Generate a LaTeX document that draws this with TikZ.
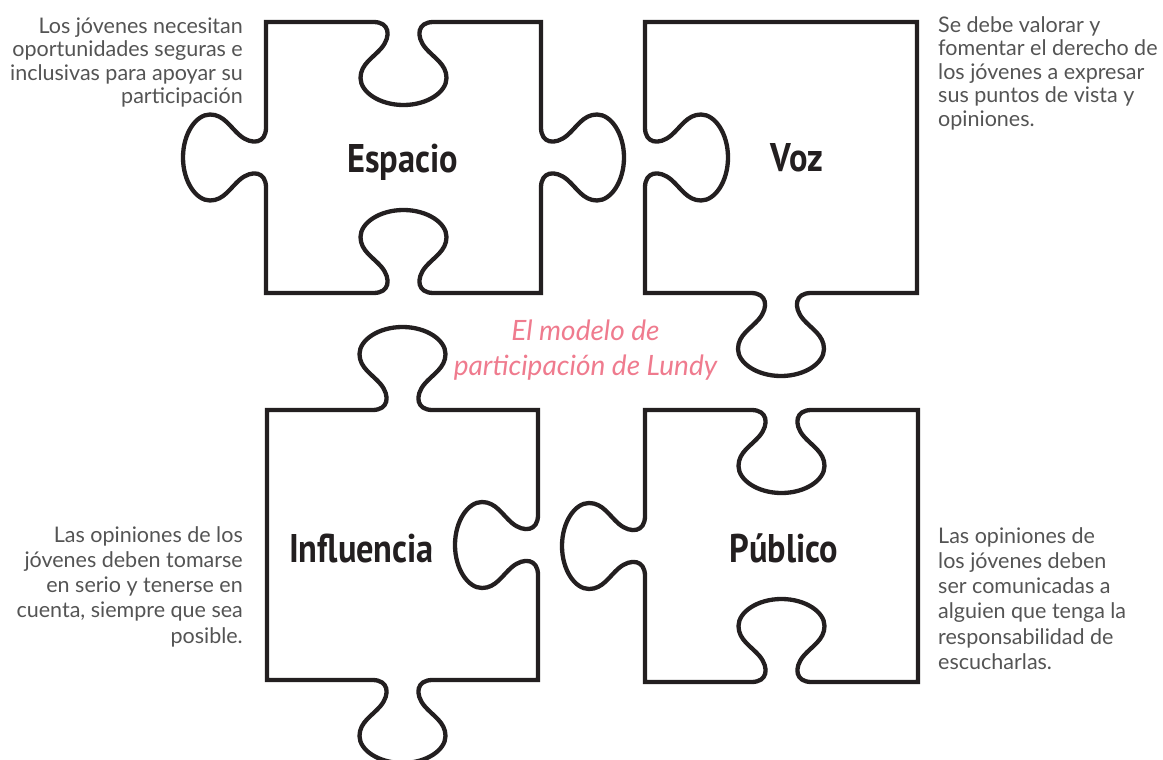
\documentclass[tikz,border=0pt]{standalone}
\usepackage{fontspec}
\setmainfont{Lato}
\newfontfamily\handfont[FakeStretch=0.86]{PT Sans}
\definecolor{ink}{HTML}{231F20}
\definecolor{txtgray}{HTML}{545454}
\definecolor{lundypink}{HTML}{EF7B8E}
% knob along an edge: #1,#2 centre; #3,#4 edge direction; #5,#6 knob direction
\newcommand\pzknob[6]{%
 -- ({(#1)+(-30)*(#3)},{(#2)+(-30)*(#4)})
 .. controls ({(#1)+(-14)*(#3)},{(#2)+(-14)*(#4)}) and ({(#1)+(-12)*(#3)+(14)*(#5)},{(#2)+(-12)*(#4)+(14)*(#6)}) .. ({(#1)+(-22)*(#3)+(26)*(#5)},{(#2)+(-22)*(#4)+(26)*(#6)})
 .. controls ({(#1)+(-30)*(#3)+(35.6)*(#5)},{(#2)+(-30)*(#4)+(35.6)*(#6)}) and ({(#1)+(-43)*(#3)+(42)*(#5)},{(#2)+(-43)*(#4)+(42)*(#6)}) .. ({(#1)+(-43)*(#3)+(56)*(#5)},{(#2)+(-43)*(#4)+(56)*(#6)})
 .. controls ({(#1)+(-43)*(#3)+(70)*(#5)},{(#2)+(-43)*(#4)+(70)*(#6)}) and ({(#1)+(-24)*(#3)+(83)*(#5)},{(#2)+(-24)*(#4)+(83)*(#6)}) .. ({(#1)+(83)*(#5)},{(#2)+(83)*(#6)})
 .. controls ({(#1)+(24)*(#3)+(83)*(#5)},{(#2)+(24)*(#4)+(83)*(#6)}) and ({(#1)+(43)*(#3)+(70)*(#5)},{(#2)+(43)*(#4)+(70)*(#6)}) .. ({(#1)+(43)*(#3)+(56)*(#5)},{(#2)+(43)*(#4)+(56)*(#6)})
 .. controls ({(#1)+(43)*(#3)+(42)*(#5)},{(#2)+(43)*(#4)+(42)*(#6)}) and ({(#1)+(30)*(#3)+(35.6)*(#5)},{(#2)+(30)*(#4)+(35.6)*(#6)}) .. ({(#1)+(22)*(#3)+(26)*(#5)},{(#2)+(22)*(#4)+(26)*(#6)})
 .. controls ({(#1)+(12)*(#3)+(14)*(#5)},{(#2)+(12)*(#4)+(14)*(#6)}) and ({(#1)+(14)*(#3)},{(#2)+(14)*(#4)}) .. ({(#1)+(30)*(#3)},{(#2)+(30)*(#4)})
}
\tikzset{
  piece/.style={draw=ink, line width=4.3pt, line join=miter},
  label/.style={font=\handfont\bfseries\fontsize{40}{44}\selectfont, text=ink, inner sep=0pt, anchor=base},
  desctop/.style={font=\fontsize{21.5}{23.5}\selectfont, text=txtgray, inner sep=0pt},
  descbot/.style={font=\fontsize{21.5}{25.2}\selectfont, text=txtgray, inner sep=0pt},
  title/.style={font=\itshape\fontsize{28}{35}\selectfont, text=lundypink, inner sep=0pt, align=center}
}
\begin{document}
\begin{tikzpicture}[x=1pt,y=-1pt]
\useasboundingbox (0,0) rectangle (1163,760);
% Espacio
\draw[piece] (266,22) \pzknob{403.5}{22}{1}{0}{0}{1} -- (541,22)
  \pzknob{541}{157.5}{0}{1}{1}{0} -- (541,293)
  \pzknob{403.5}{293}{-1}{0}{0}{-1} -- (266,293)
  \pzknob{266}{157.5}{0}{-1}{-1}{0} -- cycle;
% Voz
\draw[piece] (645,22) -- (917,22) -- (917,293)
  \pzknob{781}{293}{-1}{0}{0}{1} -- (645,293)
  \pzknob{645}{157.5}{0}{-1}{1}{0} -- cycle;
% Influencia
\draw[piece] (267,410) \pzknob{402.5}{410}{1}{0}{0}{-1} -- (538,410)
  \pzknob{538}{545}{0}{1}{-1}{0} -- (538,680)
  \pzknob{402.5}{680}{-1}{0}{0}{1} -- (267,680) -- cycle;
% Publico
\draw[piece] (645,410) \pzknob{781.5}{410}{1}{0}{0}{1} -- (918,410) -- (918,682)
  \pzknob{781.5}{682}{-1}{0}{0}{-1} -- (645,682)
  \pzknob{645}{546}{0}{-1}{-1}{0} -- cycle;
% labels
\node[label] (espacio) at (402.5,172) {Espacio};
\node[label] (voz) at (797,171) {Voz};
\node[label] (influencia) at (361.5,562) {Influencia};
\node[label] (publico) at (784,562) {Público};
% title
\node[title, anchor=north] (titulo) at (585.5,316) {\strut El modelo de\\\strut participación de Lundy};
% descriptions
\node[desctop, anchor=north east, align=right] (d1) at (243,16.5) {\strut Los jóvenes necesitan\\\strut oportunidades seguras e\\\strut inclusivas para apoyar su\\\strut participación};
\node[desctop, anchor=north west, align=left] (d2) at (938,15.5) {\strut Se debe valorar y\\\strut fomentar el derecho de\\\strut los jóvenes a expresar\\\strut sus puntos de vista y\\\strut opiniones.};
\node[descbot, anchor=north east, align=right] (d3) at (243,524.5) {\strut Las opiniones de los\\\strut jóvenes deben tomarse\\\strut en serio y tenerse en\\\strut cuenta, siempre que sea\\\strut posible.};
\node[descbot, anchor=north west, align=left] (d4) at (938,525.5) {\strut Las opiniones de\\\strut los jóvenes deben\\\strut ser comunicadas a\\\strut alguien que tenga la\\\strut responsabilidad de\\\strut escucharlas.};
\end{tikzpicture}
\end{document}
